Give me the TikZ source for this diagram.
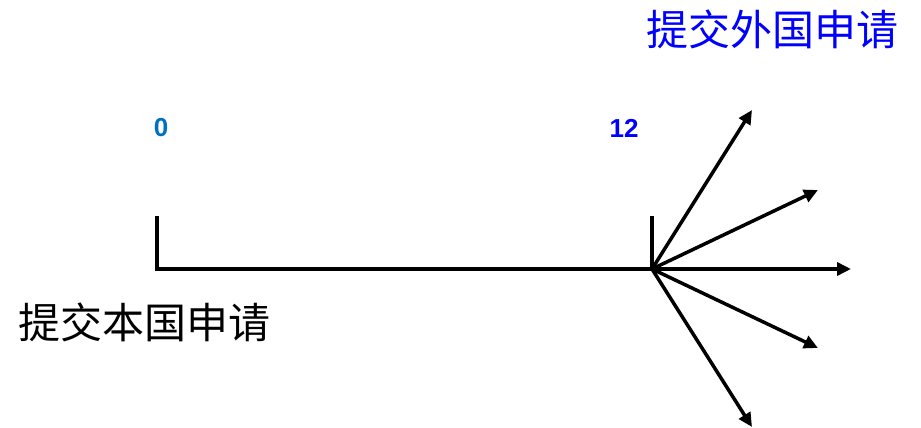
\documentclass[tikz,border=0pt]{standalone}
\usepackage{fontspec}
\setmainfont{Liberation Sans}
\newfontfamily\cjk{Noto Sans CJK SC}
\usetikzlibrary{arrows.meta}
\definecolor{numblue}{RGB}{0,112,192}
\definecolor{pureblue}{RGB}{0,0,255}
\tikzset{
  axis/.style={line width=4pt},
  ray/.style={line width=3.5pt,-{Triangle[length=14pt,width=13pt]}},
  numlbl/.style={font=\fontsize{26}{26}\selectfont\bfseries,inner sep=0pt},
  cjklbl/.style={font=\cjk\fontsize{42}{42}\selectfont,inner sep=0pt}
}
\begin{document}
\begin{tikzpicture}[x=1pt,y=-1pt]
\useasboundingbox (0,0) rectangle (921,428);
\coordinate (l0) at (157,216);
\coordinate (o0) at (157,269);
\coordinate (c) at (652,269);
\coordinate (ctop) at (652,216);
\coordinate (t1) at (752,110);
\coordinate (t2) at (818,190);
\coordinate (t3) at (851,269);
\coordinate (t4) at (818,348);
\coordinate (t5) at (752,427);
\draw[axis,line join=miter] (l0) -- (o0) -- (c);
\draw[axis] (ctop) -- (c);
\foreach \t in {t1,t2,t3,t4,t5} \draw[ray] (c) -- (\t);
\node[numlbl,text=numblue] (n0) at (161,128) {0};
\node[numlbl,text=pureblue] (n12) at (624,128) {12};
\node[cjklbl,text=pureblue] (foreign) at (772,29) {提交外国申请};
\node[cjklbl,text=black] (home) at (145,322) {提交本国申请};
\end{tikzpicture}
\end{document}
